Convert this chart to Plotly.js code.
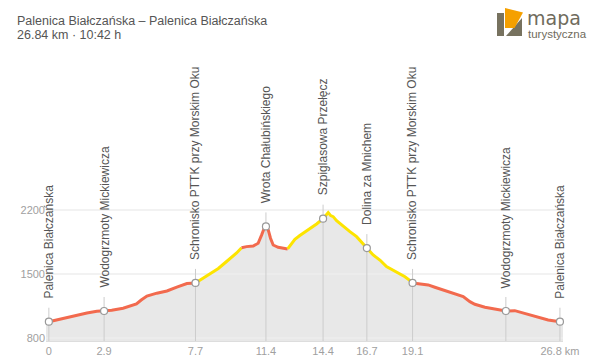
<!DOCTYPE html>
<html><head><meta charset="utf-8">
<script src="https://cdn.plot.ly/plotly-3.0.1.min.js"></script>
<style>html,body{margin:0;padding:0;background:#fff}#chart{width:600px;height:362px}</style>
</head><body><div id="chart"></div>
<script>
// ---- data ----
const distanceKm = [0, 0.58, 1.26, 2.0, 2.52, 2.9, 3.3, 3.9, 4.6, 4.85, 5.15, 5.67, 6.2, 6.72, 7.25, 7.7,
  8.0, 8.28, 8.63, 8.9, 9.24, 9.6, 9.86, 10.12, 10.38, 10.73, 10.99, 11.17, 11.29, 11.4, 11.52, 11.64, 11.78,
  12.04, 12.31, 12.54, 12.75, 12.92, 13.18, 13.36, 13.71, 14.06, 14.4, 14.58, 14.67, 14.8, 14.93, 15.11, 15.46,
  15.81, 16.16, 16.42, 16.7, 17.03, 17.4, 17.73, 17.95, 18.2, 18.45, 18.7, 18.95, 19.1, 19.57, 19.92, 20.27,
  20.8, 21.32, 21.76, 22.11, 22.37, 22.9, 23.42, 24.0, 24.47, 25.0, 25.7, 26.22, 26.84];
const elevationM = [978, 1008, 1041, 1074, 1092, 1095, 1104, 1125, 1172, 1215, 1258, 1290, 1314, 1356, 1395, 1402,
  1442, 1485, 1522, 1560, 1620, 1680, 1730, 1786, 1799, 1805, 1836, 1925, 1990, 2020, 1982, 1891, 1817,
  1792, 1781, 1774, 1830, 1878, 1920, 1945, 1989, 2047, 2105, 2157, 2172, 2138, 2127, 2083, 2018,
  1963, 1908, 1853, 1783, 1708, 1650, 1580, 1555, 1535, 1505, 1470, 1430, 1402, 1391, 1380, 1355,
  1318, 1289, 1252, 1197, 1169, 1136, 1114, 1095, 1099, 1070, 1033, 997, 978];
const trailBreaksKm = [0, 7.7, 10.12, 12.54, 19.1, 26.84];
const trailColors = ['red', 'yellow', 'red', 'yellow', 'red'];
const waypointNames = ['Palenica Białczańska', 'Wodogrzmoty Mickiewicza', 'Schronisko PTTK przy Morskim Oku',
  'Wrota Chałubińskiego', 'Szpiglasowa Przełęcz', 'Dolina za Mnichem', 'Schronisko PTTK przy Morskim Oku',
  'Wodogrzmoty Mickiewicza', 'Palenica Białczańska'];
const waypointKm = [0, 2.9, 7.7, 11.4, 14.4, 16.7, 19.1, 24.0, 26.84];
const waypointElev = [978, 1095, 1402, 2020, 2105, 1783, 1402, 1095, 978];
const xTickVals = [0, 2.9, 7.7, 11.4, 14.4, 16.7, 19.1, 26.84];
const xTickText = ['0', '2.9', '7.7', '11.4', '14.4', '16.7', '19.1', '26.8 km'];
const yTickVals = [800, 1500, 2200];
const routeTitle = 'Palenica Białczańska – Palenica Białczańska';
const routeSummary = '26.84 km · 10:42 h';

// ---- layout constants ----
const W = 600, H = 362, M = {l: 46, r: 37, t: 60, b: 21};
const X_RANGE = [-0.15, 27.0], Y_RANGE = [767, 3840];
const plotW = W - M.l - M.r, plotH = H - M.t - M.b;
const pxPerM = plotH / (Y_RANGE[1] - Y_RANGE[0]);
const COLORS = {red: '#f26a4e', yellow: '#fde400'};
const FONT = '"Liberation Sans", Arial, Helvetica, sans-serif';
const px2x = p => (p - M.l) / plotW;
const py2y = p => (H - M.b - p) / plotH;

const traces = [];
// area fill
traces.push({
  x: [X_RANGE[0], ...distanceKm, X_RANGE[1]],
  y: [elevationM[0], ...elevationM, elevationM[elevationM.length - 1]],
  mode: 'lines', fill: 'tozeroy', fillcolor: '#e8e8e8', line: {width: 0, color: '#e8e8e8'},
  hoverinfo: 'skip', showlegend: false
});
// grid lines (above fill)
const gx = [], gy = [];
yTickVals.forEach(t => { gx.push(X_RANGE[0], X_RANGE[1], null); gy.push(t, t, null); });
traces.push({x: gx, y: gy, mode: 'lines', line: {color: '#eeeeee', width: 1.5}, hoverinfo: 'skip', showlegend: false});
// waypoint stems
const sx = [], sy = [];
waypointKm.forEach((k, i) => { sx.push(k, k, null); sy.push(Y_RANGE[0], waypointElev[i] + 14 / pxPerM, null); });
traces.push({x: sx, y: sy, mode: 'lines', line: {color: '#cccccc', width: 1}, hoverinfo: 'skip', showlegend: false, cliponaxis: false});
// trail segments
trailColors.forEach((c, i) => {
  const a = trailBreaksKm[i], b = trailBreaksKm[i + 1];
  const xs = [], ys = [];
  distanceKm.forEach((k, j) => { if (k >= a - 1e-9 && k <= b + 1e-9) { xs.push(k); ys.push(elevationM[j]); } });
  traces.push({x: xs, y: ys, mode: 'lines', line: {color: COLORS[c], width: 3}, hoverinfo: 'skip', showlegend: false, cliponaxis: false});
});
// waypoint markers
traces.push({x: waypointKm, y: waypointElev, mode: 'markers',
  marker: {size: 7, color: '#ffffff', line: {color: '#999999', width: 1.2}},
  hoverinfo: 'skip', showlegend: false, cliponaxis: false});

const annotations = waypointNames.map((n, i) => ({
  x: waypointKm[i], y: waypointElev[i], xref: 'x', yref: 'y', text: n, textangle: -90,
  showarrow: false, xanchor: 'center', yanchor: 'bottom', yshift: 21,
  font: {family: FONT, size: 12, color: '#555555'}
}));
annotations.push(
  {x: px2x(15), y: py2y(21), xref: 'paper', yref: 'paper', text: routeTitle, showarrow: false,
   xanchor: 'left', yanchor: 'middle', font: {family: FONT, size: 12.5, color: '#555555'}},
  {x: px2x(15), y: py2y(35), xref: 'paper', yref: 'paper', text: routeSummary, showarrow: false,
   xanchor: 'left', yanchor: 'middle', font: {family: FONT, size: 12.5, color: '#555555'}},
  {x: px2x(525), y: py2y(18), xref: 'paper', yref: 'paper', text: 'mapa', showarrow: false,
   xanchor: 'left', yanchor: 'middle', font: {family: '"DejaVu Sans", sans-serif', size: 19, color: '#6f6b5c'}},
  {x: px2x(526), y: py2y(33.5), xref: 'paper', yref: 'paper', text: 'turystyczna', showarrow: false,
   xanchor: 'left', yanchor: 'middle', font: {family: FONT, size: 11.5, color: '#6f6b5c'}}
);

const pathOf = pts => 'M' + pts.map(p => px2x(p[0]) + ',' + py2y(p[1])).join('L') + 'Z';
const shapes = [
  {type: 'path', xref: 'paper', yref: 'paper', path: pathOf([[497, 13], [504, 13], [504, 36], [497, 36]]),
   fillcolor: '#77725f', line: {width: 0}},
  {type: 'path', xref: 'paper', yref: 'paper', path: pathOf([[506, 36], [522, 18], [522, 36]]),
   fillcolor: '#77725f', line: {width: 0}},
  {type: 'path', xref: 'paper', yref: 'paper', path: pathOf([[505, 8], [523, 12.5], [514.5, 28], [505, 28]]),
   fillcolor: '#f5a000', line: {width: 0}}
];

const layout = {
  width: W, height: H, margin: M, paper_bgcolor: '#fff', plot_bgcolor: 'rgba(0,0,0,0)',
  showlegend: false, font: {family: FONT},
  xaxis: {range: X_RANGE, tickmode: 'array', tickvals: xTickVals, ticktext: xTickText, showgrid: false,
    zeroline: false, showline: true, linecolor: '#dddddd', linewidth: 1, ticks: '',
    tickfont: {family: FONT, size: 11, color: '#a0a0a0'}, fixedrange: true},
  yaxis: {range: Y_RANGE, tickmode: 'array', tickvals: yTickVals, showgrid: false, zeroline: false,
    ticks: '', tickfont: {family: FONT, size: 11, color: '#a0a0a0'}, fixedrange: true},
  annotations: annotations, shapes: shapes
};
Plotly.newPlot('chart', traces, layout, {displayModeBar: false, staticPlot: true});
</script></body></html>
